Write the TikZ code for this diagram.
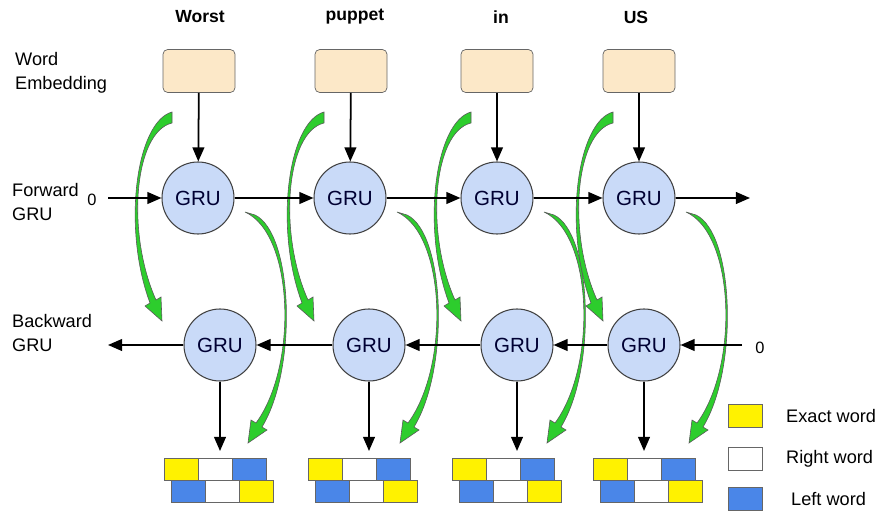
\documentclass[tikz,border=0pt]{standalone}
\usepackage{fontspec}
\setmainfont{Liberation Sans}
\usetikzlibrary{arrows.meta}
\definecolor{embfill}{RGB}{252,232,200}
\definecolor{grufill}{RGB}{201,218,248}
\definecolor{cellyellow}{RGB}{255,242,0}
\definecolor{cellblue}{RGB}{74,134,232}
\definecolor{arcgreen}{RGB}{45,205,45}

\begin{document}
\begin{tikzpicture}[x=0.03cm,y=-0.03cm,
    emb/.style={draw=gray!80!black, fill=embfill, rounded corners=4pt, minimum width=2.16cm, minimum height=1.29cm, line width=0.6pt},
    gru/.style={circle, draw=black!75, fill=grufill, minimum size=2.16cm, inner sep=0pt, line width=0.9pt, font=\fontsize{17.5}{20}\selectfont, text=black!80!blue},
    flow/.style={line width=1.5pt, -{Triangle[length=12pt,width=10pt]}},
    word/.style={font=\fontsize{15}{18}\selectfont\bfseries},
    side/.style={font=\fontsize{15.5}{20.5}\selectfont, align=left, anchor=west, inner sep=0pt},
    cell/.style={draw=black!60, line width=0.6pt},
    keytext/.style={font=\fontsize{15.5}{18}\selectfont, anchor=west, inner sep=0pt},
    arc/.style={fill=arcgreen, draw=gray!70!black, line width=0.5pt}]
\useasboundingbox (0,0) rectangle (879,515);

% green skip arrows
\foreach \cx in {198,350,497,639} {
  \begin{scope}[shift={(\cx,198)}]
    \draw[arc] (-26,-86) .. controls (-62,-76) and (-76,30) .. (-48,105) -- (-53,108) -- (-36,123) -- (-37,99) -- (-42,102) .. controls (-72,35) and (-64,-66) .. (-26,-75) -- cycle;
    \draw[arc] (57,17) .. controls (95,35) and (100,170) .. (64,229) -- (69,232) -- (50,245) -- (53,222) -- (58,225) .. controls (100,168) and (96,36) .. (47,14) -- cycle;
  \end{scope}
}

% words and embeddings
\node[word] (w1) at (200,17) {Worst};
\node[word] (w2) at (355,17) {puppet};
\node[word] (w3) at (501,17) {in};
\node[word] (w4) at (636,17) {US};
\node[emb] (e1) at (199,71) {};
\node[emb] (e2) at (351,71) {};
\node[emb] (e3) at (497,71) {};
\node[emb] (e4) at (639,71) {};

% row labels
\node[side] (lemb) at (15,73) {Word\\Embedding};
\node[side] (lfwd) at (12,202) {Forward\\GRU};
\node[side] (lbwd) at (12,333) {Backward\\GRU};

% forward GRU
\node[gru] (f1) at (198,198) {GRU};
\node[gru] (f2) at (350,198) {GRU};
\node[gru] (f3) at (497,198) {GRU};
\node[gru] (f4) at (639,198) {GRU};
\node[font=\fontsize{14}{16}\selectfont] (z1) at (92,200) {0};
\coordinate (fin) at (108,198);
\coordinate (fout) at (750,198);
\draw[flow] (fin) -- (f1);
\draw[flow] (f1) -- (f2);
\draw[flow] (f2) -- (f3);
\draw[flow] (f3) -- (f4);
\draw[flow] (f4) -- (fout);
\draw[flow] (e1) -- (f1);
\draw[flow] (e2) -- (f2);
\draw[flow] (e3) -- (f3);
\draw[flow] (e4) -- (f4);

% backward GRU
\node[gru] (b1) at (220,345) {GRU};
\node[gru] (b2) at (369,345) {GRU};
\node[gru] (b3) at (517,345) {GRU};
\node[gru] (b4) at (644,345) {GRU};
\node[font=\fontsize{14}{16}\selectfont] (z2) at (760,348) {0};
\coordinate (bin) at (742,345);
\coordinate (bout) at (108,345);
\draw[flow] (bin) -- (b4);
\draw[flow] (b4) -- (b3);
\draw[flow] (b3) -- (b2);
\draw[flow] (b2) -- (b1);
\draw[flow] (b1) -- (bout);

% outputs
\coordinate (o1) at (220,451);
\coordinate (o2) at (369,451);
\coordinate (o3) at (517,451);
\coordinate (o4) at (644,451);
\draw[flow] (b1) -- (o1);
\draw[flow] (b2) -- (o2);
\draw[flow] (b3) -- (o3);
\draw[flow] (b4) -- (o4);
\foreach \l in {164,308,452,593} {
  \draw[cell, fill=cellyellow] (\l,458) rectangle ++(34,22);
  \draw[cell, fill=white] (\l+34,458) rectangle ++(34,22);
  \draw[cell, fill=cellblue] (\l+68,458) rectangle ++(34,22);
  \draw[cell, fill=cellblue] (\l+7,480) rectangle ++(34,22);
  \draw[cell, fill=white] (\l+41,480) rectangle ++(34,22);
  \draw[cell, fill=cellyellow] (\l+75,480) rectangle ++(34,22);
}

% key
\node[cell, fill=cellyellow, minimum width=1.02cm, minimum height=0.69cm] (kexact) at (745,416) {};
\node[cell, fill=white, minimum width=1.02cm, minimum height=0.69cm] (kright) at (745,459) {};
\node[cell, fill=cellblue, minimum width=1.02cm, minimum height=0.69cm] (kleft) at (745,499) {};
\node[keytext] (texact) at (786,416) {Exact word};
\node[keytext] (tright) at (786,459) {Right word};
\node[keytext] (tleft) at (791,499) {Left word};
\end{tikzpicture}
\end{document}
